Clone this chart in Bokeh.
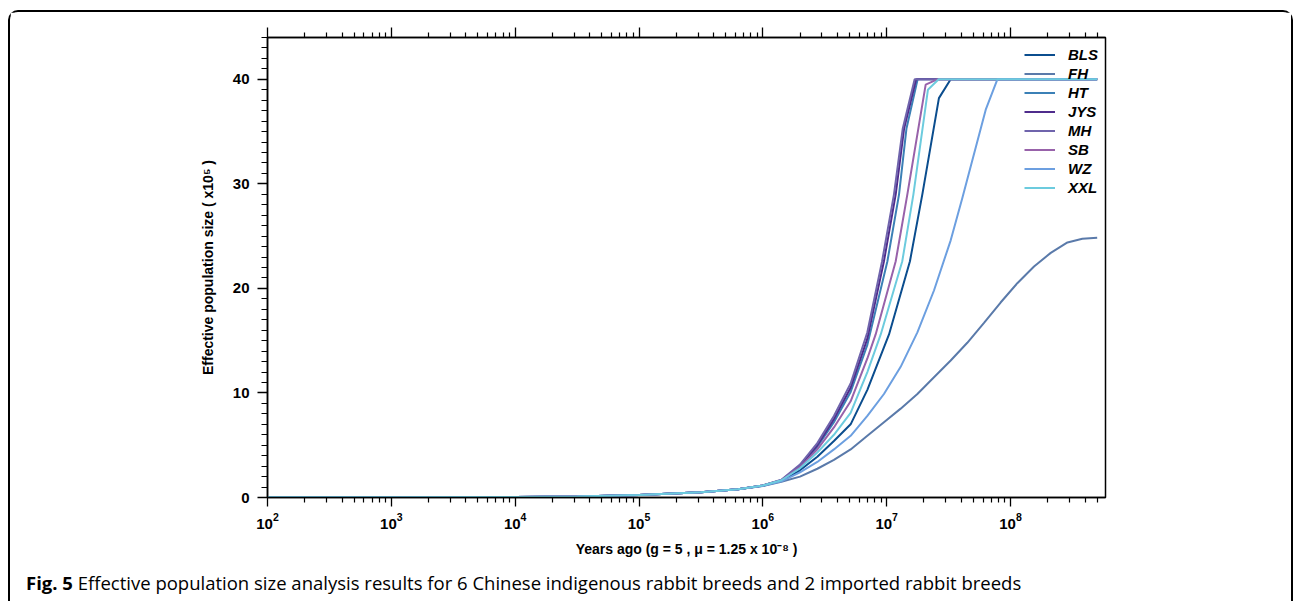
from bokeh.plotting import figure
from bokeh.layouts import column
from bokeh.models import (LogAxis, FixedTicker, Legend, LegendItem, Div,
                          Range1d, LogTickFormatter, ColumnDataSource)
from bokeh.embed import file_html
from bokeh.resources import INLINE

# ---------------- data (log10 of years ago, Ne in units of 1e5) ----------------
series_names = ["BLS", "FH", "HT", "JYS", "MH", "SB", "WZ", "XXL"]
series_colors = ["#0b4d8e", "#5a7aaa", "#3b80b6", "#4f2c8c", "#6f64ac",
                 "#9862aa", "#6c9fe0", "#6ccbde"]

early_logt = [2.0, 3.0, 4.0, 4.5, 5.0, 5.5, 5.8, 6.0, 6.15]

BLS_logt = early_logt + [6.3, 6.44, 6.574, 6.709, 6.844, 7.019, 7.188, 7.288, 7.422, 7.517, 8.70]
BLS_ne = [0.02, 0.03, 0.05, 0.1, 0.25, 0.5, 0.8, 1.12, 1.6,
          2.6, 3.9, 5.4, 7.0, 10.3, 15.6, 22.6, 29.0, 38.2, 40.0, 40.0]

FH_logt = early_logt + [6.3, 6.44, 6.574, 6.709, 6.844, 6.978, 7.113, 7.248, 7.382, 7.517,
                        7.651, 7.786, 7.92, 8.055, 8.19, 8.325, 8.46, 8.58, 8.70]
FH_ne = [0.02, 0.03, 0.05, 0.1, 0.25, 0.5, 0.8, 1.1, 1.5,
         2.0, 2.75, 3.6, 4.6, 5.9, 7.2, 8.5, 9.9, 11.5, 13.1,
         14.8, 16.7, 18.65, 20.5, 22.1, 23.4, 24.4, 24.75, 24.85]

HT_logt = early_logt + [6.3, 6.44, 6.574, 6.709, 6.844, 7.006, 7.1, 7.16, 7.25, 8.70]
HT_ne = [0.02, 0.03, 0.05, 0.1, 0.25, 0.5, 0.8, 1.15, 1.65,
         2.95, 4.85, 7.2, 10.1, 14.6, 22.6, 29.0, 35.3, 40.0, 40.0]

JYS_logt = early_logt + [6.3, 6.44, 6.574, 6.709, 6.844, 6.978, 7.073, 7.141, 7.238, 8.70]
JYS_ne = [0.02, 0.03, 0.05, 0.1, 0.25, 0.5, 0.8, 1.15, 1.65,
          3.05, 5.0, 7.5, 10.5, 15.2, 22.6, 29.0, 35.3, 40.0, 40.0]

MH_logt = early_logt + [6.3, 6.44, 6.574, 6.709, 6.844, 6.963, 7.059, 7.13, 7.226, 8.70]
MH_ne = [0.02, 0.03, 0.05, 0.1, 0.25, 0.5, 0.8, 1.15, 1.7,
         3.15, 5.2, 7.8, 10.9, 15.8, 22.6, 29.0, 35.3, 40.0, 40.0]

SB_logt = early_logt + [6.3, 6.44, 6.574, 6.709, 6.844, 6.911, 7.073, 7.167, 7.315, 7.409, 8.70]
SB_ne = [0.02, 0.03, 0.05, 0.1, 0.25, 0.5, 0.8, 1.15, 1.65,
         2.9, 4.6, 6.7, 9.2, 13.3, 15.6, 22.6, 29.0, 39.5, 40.0, 40.0]

WZ_logt = early_logt + [6.3, 6.44, 6.574, 6.709, 6.844, 6.978, 7.113, 7.248, 7.382, 7.517,
                        7.61, 7.80, 7.894, 8.70]
WZ_ne = [0.02, 0.03, 0.05, 0.1, 0.25, 0.5, 0.8, 1.12, 1.55,
         2.4, 3.4, 4.6, 5.9, 7.8, 9.9, 12.5, 15.8, 19.8, 24.6,
         28.6, 37.1, 40.0, 40.0]

XXL_logt = early_logt + [6.3, 6.44, 6.574, 6.709, 6.844, 6.952, 7.126, 7.216, 7.333, 7.42, 8.70]
XXL_ne = [0.02, 0.03, 0.05, 0.1, 0.25, 0.5, 0.8, 1.15, 1.65,
          2.8, 4.3, 6.0, 8.1, 12.0, 15.6, 22.6, 29.0, 39.0, 40.0, 40.0]

series_logt = [BLS_logt, FH_logt, HT_logt, JYS_logt, MH_logt, SB_logt, WZ_logt, XXL_logt]
series_ne = [BLS_ne, FH_ne, HT_ne, JYS_ne, MH_ne, SB_ne, WZ_ne, XXL_ne]

x_major_ticks = [1e2, 1e3, 1e4, 1e5, 1e6, 1e7, 1e8]
x_minor_ticks = [k * 10.0 ** e for e in range(2, 9) for k in range(2, 10) if k * 10.0 ** e <= 5.85e8]
y_major_ticks = [0, 10, 20, 30, 40]
y_minor_ticks = [v for v in range(0, 45) if v % 10 != 0]

x_label = "Years ago (g = 5 , \u03bc = 1.25 x 10\u207b\u2078 )"
y_label = "Effective population size ( x10\u2075 )"
caption_bold = "Fig. 5"
caption_text = ("Effective population size analysis results for 6 Chinese indigenous "
                "rabbit breeds and 2 imported rabbit breeds")

# ---------------- figure ----------------
FONT = "Liberation Sans"
p = figure(width=1281, height=555, x_axis_type="log",
           x_range=Range1d(1e2, 5.85e8), y_range=Range1d(0, 44),
           output_backend="svg", toolbar_location=None,
           min_border_left=257, min_border_right=186,
           min_border_top=25, min_border_bottom=70)
p.xgrid.visible = False
p.ygrid.visible = False
p.outline_line_color = "black"
p.outline_line_width = 1.5
p.outline_line_alpha = 1.0
p.background_fill_color = "white"
p.border_fill_color = "white"

renderers = []
for name, col, lt, ne in zip(series_names, series_colors, series_logt, series_ne):
    src = ColumnDataSource(dict(x=[10.0 ** v for v in lt], y=ne))
    r = p.line("x", "y", source=src, line_color=col, line_width=2)
    renderers.append(r)


def style_axis(ax):
    ax.axis_line_width = 1.5
    ax.axis_line_color = "black"
    ax.major_tick_line_width = 1.3
    ax.minor_tick_line_width = 1.2
    ax.major_tick_line_color = "black"
    ax.minor_tick_line_color = "black"
    ax.major_tick_in = 0
    ax.minor_tick_in = 0
    ax.major_label_text_font = FONT
    ax.major_label_text_font_style = "bold"
    ax.major_label_text_color = "black"
    ax.axis_label_text_font = FONT
    ax.axis_label_text_font_style = "bold"
    ax.axis_label_text_color = "black"


xa = p.xaxis[0]
style_axis(xa)
xa.ticker = FixedTicker(ticks=x_major_ticks, minor_ticks=x_minor_ticks)
xa.formatter = LogTickFormatter()
xa.major_tick_out = 9
xa.minor_tick_out = 5
xa.major_label_text_font_size = "15px"
xa.major_label_standoff = 6
xa.axis_label = x_label
xa.axis_label_text_font_size = "14px"
xa.axis_label_standoff = 9

ya = p.yaxis[0]
style_axis(ya)
ya.ticker = FixedTicker(ticks=y_major_ticks, minor_ticks=y_minor_ticks)
ya.major_tick_out = 10
ya.minor_tick_out = 6
ya.major_label_text_font_size = "15px"
ya.major_label_standoff = 8
ya.axis_label = y_label
ya.axis_label_text_font_size = "14px"
ya.axis_label_standoff = 14

top = LogAxis(ticker=FixedTicker(ticks=x_major_ticks, minor_ticks=x_minor_ticks),
              formatter=LogTickFormatter())
style_axis(top)
top.major_tick_out = 10
top.minor_tick_out = 5
top.major_label_text_font_size = "0px"
top.major_label_text_alpha = 0
p.add_layout(top, "above")

legend = Legend(items=[LegendItem(label=n, renderers=[r]) for n, r in zip(series_names, renderers)],
                location=(757, 300), border_line_color=None, background_fill_alpha=0,
                padding=0, margin=0, spacing=0, glyph_width=31, glyph_height=19,
                label_height=19, label_standoff=13,
                label_text_font=FONT, label_text_font_style="bold italic",
                label_text_font_size="15px", label_text_color="black")
p.add_layout(legend)

caption = Div(text="<b>" + caption_bold + "</b> " + caption_text,
              width=1281, height=34, margin=0,
              styles={"font-family": "'Open Sans', sans-serif", "font-size": "18.5px",
                      "color": "black", "padding-left": "16px", "padding-top": "5px",
                      "line-height": "21px", "white-space": "nowrap",
                      "box-sizing": "border-box"})

layout = column(p, caption, spacing=0, margin=(10, 0, 0, 8),
                styles={"border": "2px solid black", "border-bottom": "none",
                        "border-radius": "10px 10px 0 0", "background": "white"})

open("out.html", "w").write(file_html(layout, INLINE))
